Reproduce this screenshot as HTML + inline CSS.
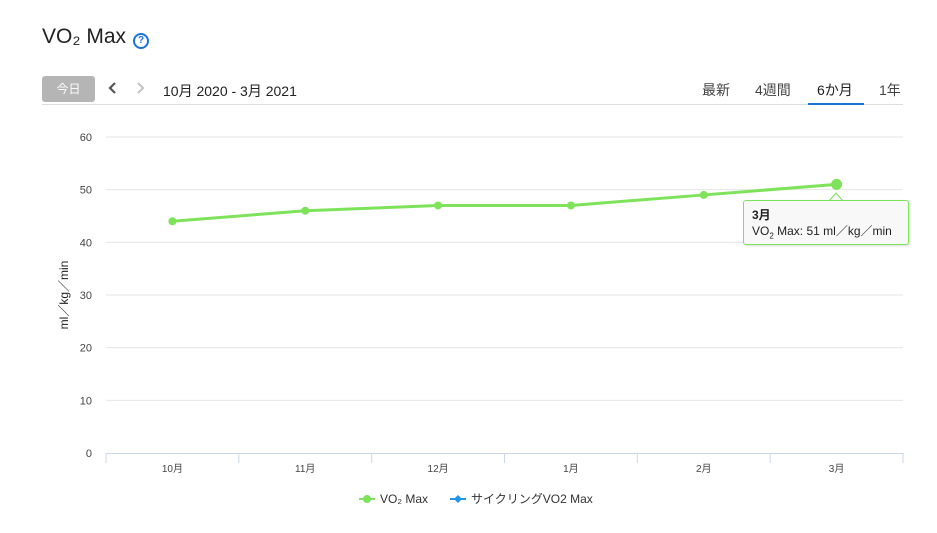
<!DOCTYPE html>
<html><head><meta charset="utf-8"><style>
body{margin:0;width:937px;height:533px;background:#fff;font-family:"Liberation Sans","Noto Sans CJK JP",sans-serif;color:#222;position:relative;overflow:hidden}
.abs{position:absolute}
</style></head><body>
<div class="abs" style="left:42px;top:25px;font-size:21px;color:#222">VO₂ Max</div>
<div class="abs" style="left:133px;top:33px;width:12px;height:12px;border:2px solid #1a73d9;border-radius:50%;color:#1a73d9;font-size:10px;font-weight:bold;text-align:center;line-height:12px">?</div>
<div class="abs" style="left:42px;top:76px;width:53px;height:26px;background:#b5b5b5;border-radius:3px;color:#fff;font-size:12px;text-align:center;line-height:26px">今日</div>
<svg class="abs" style="left:108px;top:82px" width="10" height="12"><path d="M7,1 L2,6 L7,11" fill="none" stroke="#555" stroke-width="2.2"/></svg>
<svg class="abs" style="left:136px;top:82px" width="10" height="12"><path d="M2,1 L7,6 L2,11" fill="none" stroke="#c4c4c4" stroke-width="2"/></svg>
<div class="abs" style="left:163px;top:81px;font-size:14px">10月 2020 - 3月 2021</div>
<div class="abs" style="left:702px;top:80px;font-size:14px;color:#444">最新</div>
<div class="abs" style="left:755px;top:80px;font-size:14px;color:#444">4週間</div>
<div class="abs" style="left:817px;top:80px;font-size:14px;color:#222">6か月</div>
<div class="abs" style="left:879px;top:80px;font-size:14px;color:#444">1年</div>
<div class="abs" style="left:42px;top:104px;width:861px;height:1px;background:#ddd"></div>
<div class="abs" style="left:808px;top:103px;width:56px;height:2px;background:#1a73d9"></div>
<svg class="abs" style="left:0;top:0" width="937" height="533" id="chart"></svg>
<div class="abs" style="left:743px;top:200px;width:166px;height:45px;background:#f8f8f8;border:1px solid #7ee35a;border-radius:3px;box-shadow:1px 1px 2px rgba(0,0,0,.15);font-size:12px;line-height:16px;padding:6px 0 0 8px;box-sizing:border-box"><b>3月</b><br>VO<sub style="font-size:8px">2</sub> Max: 51 ml／kg／min</div>
<script>
const categories=["10月","11月","12月","1月","2月","3月"];
const vo2Values=[44,46,47,47,49,51];
const yTicks=[0,10,20,30,40,50,60];
const NS="http://www.w3.org/2000/svg";
const svg=document.getElementById('chart');
const L=106,R=903,T=137,B=453;
const step=(R-L)/categories.length;
const x=i=>L+step*(i+0.5);
const y=v=>B-(v/60)*(B-T);
function mk(t,a){const e=document.createElementNS(NS,t);for(const k in a)e.setAttribute(k,a[k]);svg.appendChild(e);return e;}
yTicks.forEach(v=>{
 if(v>0){const g=mk('line',{x1:L,x2:R,y1:y(v),y2:y(v),stroke:'#e6e6e6'});
 
 }
 const t=mk('text',{x:92,y:y(v)+4,'text-anchor':'end','font-size':11,fill:'#444'});t.textContent=v;
 
 
});
const ax=mk('line',{x1:L,x2:R,y1:B+0.5,y2:B+0.5,stroke:'#ccd6eb'});


for(let i=0;i<=categories.length;i++){const tk=mk('line',{x1:L+step*i,x2:L+step*i,y1:B,y2:B+10,stroke:'#ccd6eb'});
 
 }
categories.forEach((c,i)=>{const t=mk('text',{x:x(i),y:472,'text-anchor':'middle','font-size':10,fill:'#444'});t.textContent=c;
 
 });
const yt=mk('text',{x:0,y:0,transform:'translate(68,295) rotate(-90)','text-anchor':'middle','font-size':12,fill:'#222'});yt.textContent='ml／kg／min';


const line=mk('polyline',{points:vo2Values.map((v,i)=>x(i)+','+y(v)).join(' '),fill:'none',stroke:'#7ee35a','stroke-width':3});


vo2Values.forEach((v,i)=>{const last=i===vo2Values.length-1;const p=mk('circle',{cx:x(i),cy:y(v),r:last?5.5:4,fill:'#7ee35a'});
 
 });
const l1=mk('line',{x1:359,x2:375,y1:499,y2:499,stroke:'#7ee35a','stroke-width':2});
mk('circle',{cx:367,cy:499,r:4,fill:'#7ee35a'});
const lt1=mk('text',{x:380,y:503,'font-size':12,fill:'#333'});lt1.textContent='VO₂ Max';


const l2=mk('line',{x1:450,x2:466,y1:499,y2:499,stroke:'#2196e8','stroke-width':2});
mk('path',{d:'M458,495 L462,499 L458,503 L454,499Z',fill:'#2196e8'});
const lt2=mk('text',{x:471,y:503,'font-size':12,fill:'#333'});lt2.textContent='サイクリングVO2 Max';


mk('path',{d:'M829,201 L836,193 L843,201',fill:'#f8f8f8',stroke:'#7ee35a'});
</script>
</body></html>
